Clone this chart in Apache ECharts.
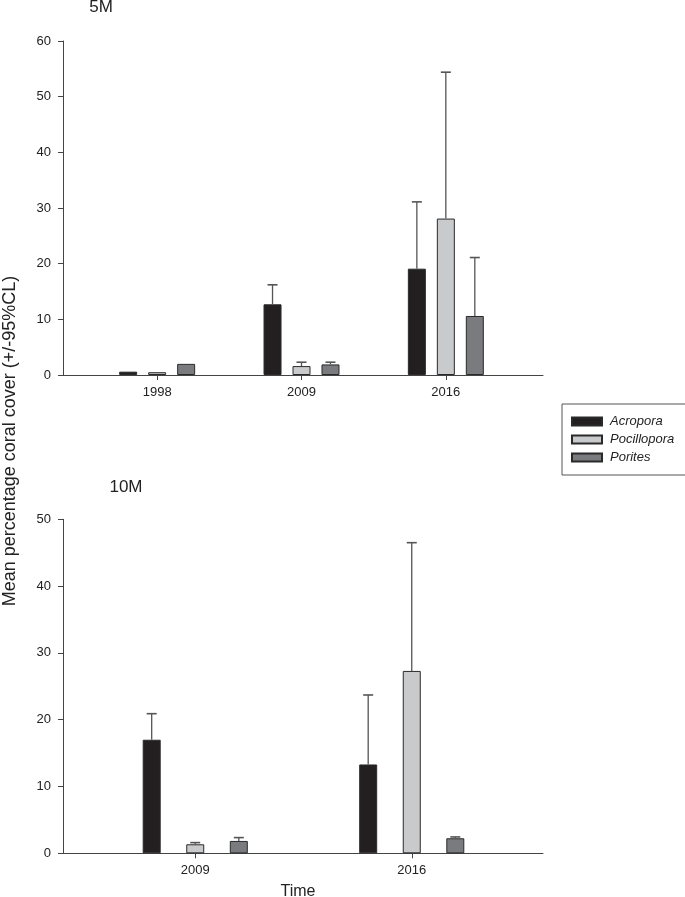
<!DOCTYPE html>
<html><head><meta charset="utf-8">
<script src="https://cdn.jsdelivr.net/npm/echarts@6.0.0/dist/echarts.min.js"></script>
<style>html,body{margin:0;padding:0;background:#fff}#c{width:685px;height:897px}</style>
</head><body><div id="c"></div>
<script>
// ---- data ----
const species = ['Acropora', 'Pocillopora', 'Porites'];

// 5 m panel
const years5 = ['1998', '2009', '2016'];
const acropora5 = [0.6, 12.7, 19.1];
const pocillopora5 = [0.5, 1.6, 28.1];
const porites5 = [2.0, 1.9, 10.6];
const acropora5Upper = [null, 16.2, 31.1];
const pocillopora5Upper = [null, 2.3, 54.4];
const porites5Upper = [null, 2.3, 21.1];
const yTicks5 = [0, 10, 20, 30, 40, 50, 60];

// 10 m panel
const years10 = ['2009', '2016'];
const acropora10 = [17.0, 13.3];
const pocillopora10 = [1.35, 27.3];
const porites10 = [1.85, 2.25];
const acropora10Upper = [20.9, 23.7];
const pocillopora10Upper = [1.6, 46.5];
const porites10Upper = [2.35, 2.45];
const yTicks10 = [0, 10, 20, 30, 40, 50];

// ---- styling ----
const FONT = '"Liberation Sans", Arial, sans-serif';
const colors = ['#231f20', '#c9cacc', '#7a7b7e'];
const axisColor = '#444';
const textColor = '#222';
const BAR_W = 18;

const chart = echarts.init(document.getElementById('c'), null, {renderer: 'canvas'});

function frameX(idx, cats) {
  return {gridIndex: idx, type: 'category', data: cats,
    axisLine: {show: true, lineStyle: {color: axisColor, width: 1}},
    axisTick: {show: false}, axisLabel: {show: false}, splitLine: {show: false}};
}
function dataX(idx, cats) {
  return {gridIndex: idx, type: 'category', data: cats, boundaryGap: true,
    axisLine: {show: false},
    axisTick: {show: true, alignWithLabel: true, length: 5, lineStyle: {color: axisColor}},
    axisLabel: {show: true, margin: 11, fontSize: 13, color: textColor, fontFamily: FONT},
    splitLine: {show: false}};
}
function frameY(idx, ticks) {
  return {gridIndex: idx, type: 'value', min: ticks[0], max: ticks[ticks.length - 1],
    interval: ticks[1] - ticks[0],
    axisLine: {show: true, lineStyle: {color: axisColor, width: 1}},
    axisTick: {show: true, length: 5, lineStyle: {color: axisColor}},
    axisLabel: {margin: 12, fontSize: 13, color: textColor, fontFamily: FONT},
    splitLine: {show: false}};
}
function dataY(idx, ticks) {
  return {gridIndex: idx, type: 'value', min: ticks[0], max: ticks[ticks.length - 1],
    interval: ticks[1] - ticks[0], show: false, splitLine: {show: false}};
}

function barSeries(name, axisIdx, values, k, gap) {
  return {type: 'bar', name: name, xAxisIndex: axisIdx, yAxisIndex: axisIdx,
    barWidth: BAR_W, barGap: gap, data: values, silent: true,
    itemStyle: {color: colors[k], borderColor: '#2a2a2a', borderWidth: 1}};
}
function errSeries(name, axisIdx, means, uppers, k, spacing) {
  const data = [];
  means.forEach((m, i) => { if (uppers[i] != null) data.push([i, m, uppers[i]]); });
  return {type: 'custom', name: name + ' CL', xAxisIndex: axisIdx, yAxisIndex: axisIdx,
    z: 5, silent: true, data: data,
    renderItem: function (params, api) {
      const i = api.value(0);
      const lo = api.coord([i, api.value(1)]);
      const hi = api.coord([i, api.value(2)]);
      const x = lo[0] + (k - 1) * spacing;
      return {type: 'group', children: [
        {type: 'line', shape: {x1: x, y1: lo[1], x2: x, y2: hi[1]},
          style: {stroke: '#555', lineWidth: 1.3}},
        {type: 'line', shape: {x1: x - 5, y1: hi[1], x2: x + 5, y2: hi[1]},
          style: {stroke: '#555', lineWidth: 1.6}}
      ]};
    }};
}

const GAP5 = '61%', SP5 = BAR_W * 1.61;
const GAP10 = '142%', SP10 = BAR_W * 2.42;

const option = {
  backgroundColor: '#fff',
  animation: false,
  grid: [
    {left: 63, right: 142, top: 41, height: 334},   // 0 frame 5M
    {left: 85, right: 167, top: 41, height: 334},   // 1 data 5M
    {left: 63, right: 142, top: 519.3, height: 334},// 2 frame 10M
    {left: 87, right: 165, top: 519.3, height: 334} // 3 data 10M
  ],
  xAxis: [frameX(0, years5), dataX(1, years5), frameX(2, years10), dataX(3, years10)],
  yAxis: [frameY(0, yTicks5), dataY(1, yTicks5), frameY(2, yTicks10), dataY(3, yTicks10)],
  legend: {
    data: species, orient: 'vertical', left: 562, top: 404,
    itemWidth: 30, itemHeight: 8, itemGap: 5, icon: 'rect',
    borderColor: '#555', borderWidth: 1, padding: [11, 14, 11, 9],
    textStyle: {fontStyle: 'italic', fontSize: 13, color: textColor, fontFamily: FONT,
      padding: [0, 0, 0, 3]},
    selectedMode: false
  },
  series: [
    barSeries(species[0], 1, acropora5, 0, GAP5),
    barSeries(species[1], 1, pocillopora5, 1, GAP5),
    barSeries(species[2], 1, porites5, 2, GAP5),
    errSeries(species[0], 1, acropora5, acropora5Upper, 0, SP5),
    errSeries(species[1], 1, pocillopora5, pocillopora5Upper, 1, SP5),
    errSeries(species[2], 1, porites5, porites5Upper, 2, SP5),
    barSeries(species[0], 3, acropora10, 0, GAP10),
    barSeries(species[1], 3, pocillopora10, 1, GAP10),
    barSeries(species[2], 3, porites10, 2, GAP10),
    errSeries(species[0], 3, acropora10, acropora10Upper, 0, SP10),
    errSeries(species[1], 3, pocillopora10, pocillopora10Upper, 1, SP10),
    errSeries(species[2], 3, porites10, porites10Upper, 2, SP10)
  ],
  graphic: [
    {type: 'text', x: 101, y: 7, style: {text: '5M', fill: textColor, font: '17px ' + FONT,
      textAlign: 'center', textVerticalAlign: 'middle'}},
    {type: 'text', x: 126, y: 487, style: {text: '10M', fill: textColor, font: '17px ' + FONT,
      textAlign: 'center', textVerticalAlign: 'middle'}},
    {type: 'text', x: 10, y: 441, rotation: Math.PI / 2,
      style: {text: 'Mean percentage coral cover (+/-95%CL)', fill: textColor,
        font: '18px ' + FONT, textAlign: 'center', textVerticalAlign: 'middle'}},
    {type: 'text', x: 298, y: 892,
      style: {text: 'Time', fill: textColor, font: '16px ' + FONT,
        textAlign: 'center', textVerticalAlign: 'middle'}}
  ]
};
chart.setOption(option);
</script>
</body></html>
